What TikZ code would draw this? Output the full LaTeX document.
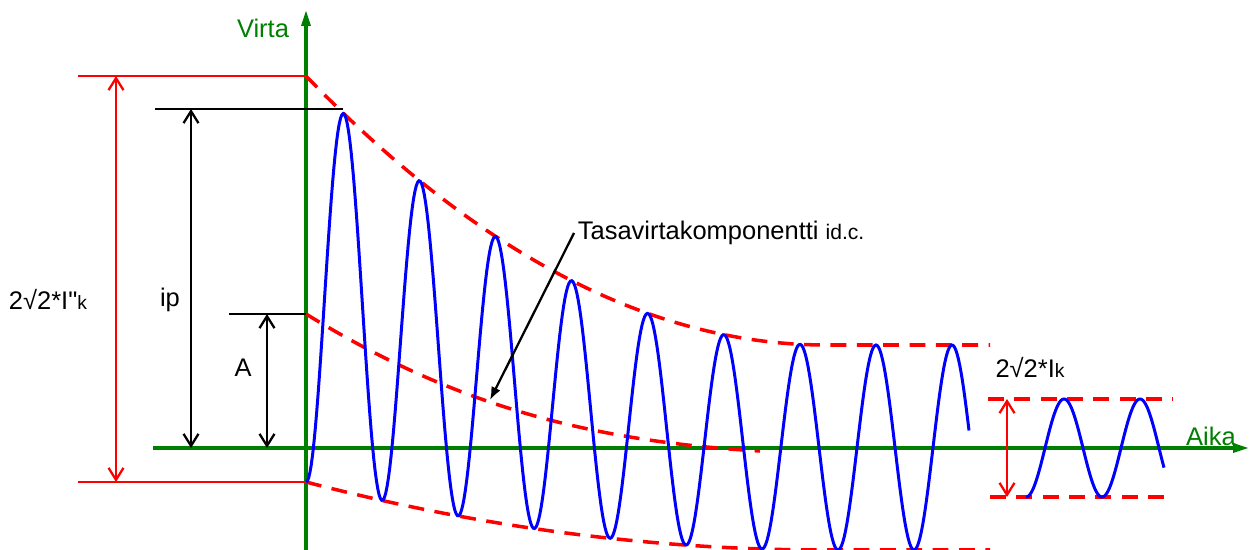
\documentclass[tikz,border=0pt]{standalone}
\usepackage{fontspec}
\setmainfont{Liberation Sans}
\usetikzlibrary{arrows.meta}
\definecolor{axisgreen}{RGB}{0,128,0}

\begin{document}
\begin{tikzpicture}[
    x=0.02cm, y=-0.02cm,
    axis/.style={draw=axisgreen, line width=1.8pt, -{Triangle[length=3.2mm,width=1.8mm]}},
    axistxt/.style={text=axisgreen, font=\fontsize{14.5}{16}\selectfont},
    txt/.style={font=\fontsize{14.5}{16}\selectfont, inner sep=2pt},
    redline/.style={red, line width=1.3pt},
    blackline/.style={black, line width=1.3pt},
    measure/.style={line width=1.3pt, {Straight Barb[length=2.4mm,width=3mm]}-{Straight Barb[length=2.4mm,width=3mm]}},
    envelope/.style={red, line width=2pt, dash pattern=on 9pt off 6pt},
    wave/.style={blue, line width=1.7pt},
    pointer/.style={black, line width=1.3pt, -{Latex[length=2.6mm,width=2mm]}},
    declare function={
        env(\s)=(max(0,1-\s/520))^2;
        upper(\s)=345-269*env(\s);
        lower(\s)=550-68*env(\s);
        wavey(\s)=447.5-168.5*env(\s)+(102.5+100.5*env(\s))*cos(\s*4.7368);
    }
]
\useasboundingbox (0,0) rectangle (1250,550);

% Axes
\coordinate (ybot) at (306,550);
\coordinate (ytop) at (306,10);
\coordinate (xleft) at (153,448);
\coordinate (xright) at (1249,448);
\draw[axis] (ybot) -- (ytop);
\draw[axis] (xleft) -- (xright);
\node[axistxt] (virta) at (263,28) {Virta};
\node[axistxt] (aika) at (1211,436) {Aika};

% Initial peak-to-peak (red)
\coordinate (rtop) at (306,76);
\coordinate (rbot) at (306,482);
\draw[redline] (78,76) -- (rtop);
\draw[redline] (78,482) -- (rbot);
\coordinate (rmtop) at (116,76);
\coordinate (rmbot) at (116,482);
\draw[measure, red] (rmtop) -- (rmbot);
\node[txt] (ikinit) at (48,300) {2√2*I\textquotedbl{\fontsize{11}{12}\selectfont k}};

% Peak current ip (black)
\coordinate (peak) at (343,109);
\draw[blackline] (155,109) -- (peak);
\coordinate (iptop) at (191,109);
\coordinate (ipbot) at (191,448);
\draw[measure] (iptop) -- (ipbot);
\node[txt] (ip) at (170,300) {ip};

% DC offset A (black)
\coordinate (dcstart) at (306,314);
\draw[blackline] (229,314) -- (dcstart);
\coordinate (atop) at (267,314);
\coordinate (abot) at (267,448);
\draw[measure] (atop) -- (abot);
\node[txt] (a) at (243,368) {A};

% Envelopes
\draw[envelope] plot[domain=0:684, samples=120] ({306+\x},{upper(\x)});
\draw[envelope] plot[domain=0:684, samples=120] ({306+\x},{lower(\x)});
\draw[envelope] (dcstart) .. controls (430,390) and (560,440) .. (760,451);

% Short-circuit current
\draw[wave] plot[domain=0:663, samples=500] ({306+\x},{wavey(\x)});

% DC component label
\node[txt, anchor=west] (dclabel) at (574,233) {Tasavirtakomponentti {\fontsize{12}{13}\selectfont id.c.}};
\coordinate (dctip) at (490,400);
\draw[pointer] (dclabel.west) -- (dctip);

% Steady state
\coordinate (sstop) at (1007,399);
\coordinate (ssbot) at (1007,497);
\draw[envelope] (988,399) -- (1173,399);
\draw[envelope] (990,497) -- (1173,497);
\draw[measure, red] (sstop) -- (ssbot);
\draw[wave] plot[domain=0:138, samples=150] ({1026+\x},{448+49*cos(\x*4.7368)});
\node[txt] (ik) at (1030,368) {2√2*I{\fontsize{11}{12}\selectfont k}};

\end{tikzpicture}
\end{document}
